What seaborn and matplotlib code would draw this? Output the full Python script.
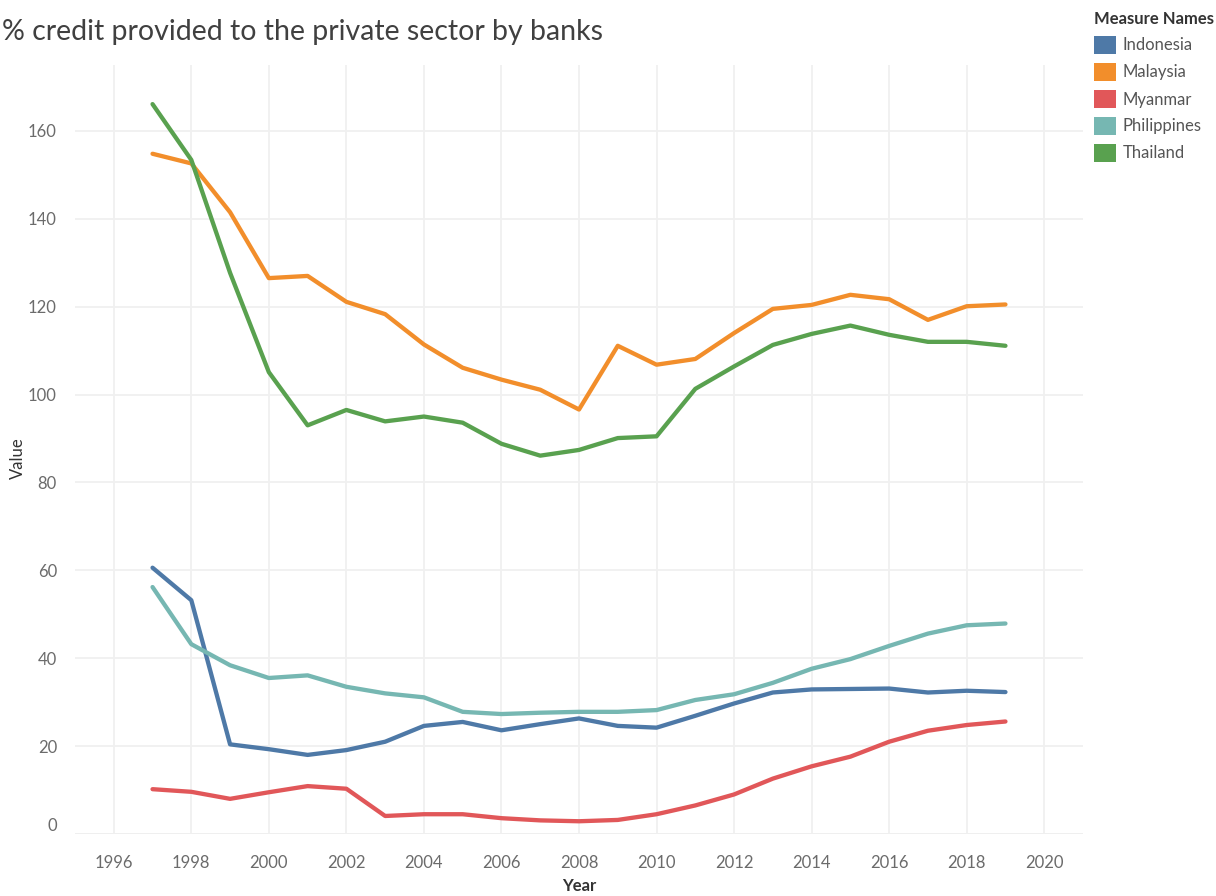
import numpy as np
import pandas as pd
import matplotlib
matplotlib.use("Agg")
import matplotlib.pyplot as plt
from matplotlib.patches import Patch
import seaborn as sns

# Domestic credit to the private sector by banks (% of GDP), 1997-2019
years = list(range(1997, 2020))
indonesia = [60.6, 53.2, 20.4, 19.3, 18.0, 19.1, 21.0, 24.6, 25.5, 23.6, 25.0, 26.3,
             24.6, 24.2, 26.9, 29.7, 32.2, 32.9, 33.0, 33.1, 32.2, 32.6, 32.3]
malaysia = [154.8, 152.6, 141.5, 126.5, 127.0, 121.1, 118.3, 111.4, 106.1, 103.4, 101.1, 96.6,
            111.1, 106.8, 108.1, 114.0, 119.5, 120.4, 122.7, 121.7, 117.0, 120.1, 120.5]
myanmar = [10.2, 9.6, 8.0, 9.5, 10.9, 10.3, 4.1, 4.5, 4.5, 3.6, 3.1, 2.9,
           3.2, 4.5, 6.5, 9.0, 12.6, 15.4, 17.6, 21.0, 23.5, 24.8, 25.6]
philippines = [56.2, 43.2, 38.4, 35.5, 36.1, 33.5, 32.0, 31.1, 27.8, 27.3, 27.6, 27.8,
               27.8, 28.2, 30.5, 31.8, 34.4, 37.6, 39.8, 42.8, 45.6, 47.5, 47.9]
thailand = [166.1, 153.4, 127.7, 105.1, 93.0, 96.5, 93.9, 95.0, 93.6, 88.8, 86.1, 87.4,
            90.1, 90.5, 101.3, 106.4, 111.3, 113.8, 115.7, 113.6, 112.0, 112.0, 111.1]

countries = ["Indonesia", "Malaysia", "Myanmar", "Philippines", "Thailand"]
colors = ["#4e79a7", "#f28e2b", "#e15759", "#76b7b2", "#59a14f"]
x_ticks = list(range(1996, 2021, 2))
y_ticks = list(range(0, 161, 20))

series = dict(zip(countries, [indonesia, malaysia, myanmar, philippines, thailand]))
df = pd.concat(
    [pd.DataFrame({"Year": years, "Value": vals, "Measure Names": name})
     for name, vals in series.items()],
    ignore_index=True,
)

sns.set_theme(style="white")
plt.rcParams["font.family"] = ["Lato", "DejaVu Sans"]

fig = plt.figure(figsize=(12.16, 8.96), dpi=100)
ax_h = (834 - 65) / 896
ax = fig.add_axes([75 / 1216, 1 - 834 / 896, (1083 - 75) / 1216, ax_h])

sns.lineplot(data=df, x="Year", y="Value", hue="Measure Names",
             hue_order=countries, palette=colors, linewidth=3.1,
             legend=False, ax=ax, solid_capstyle="round")

grid_c = "#f0f0f0"
ax.set_xlim(1995, 2021)
ax.set_ylim(0, 175)
ax.set_xticks(x_ticks)
ax.set_yticks(y_ticks)
ax.grid(True, color=grid_c, linewidth=1.3)
ax.set_axisbelow(True)
for s in ax.spines.values():
    s.set_visible(False)
ax.axhline(0, color="#e6e6e6", linewidth=1.3, zorder=0.5)
ax.tick_params(axis="both", which="major", length=7, width=1.3, color=grid_c,
               labelsize=12, labelcolor="#6b6b6b", pad=6)
ax.tick_params(axis="x", pad=8)

# Tableau-style: the zero label sits above the baseline
ylabels = ax.get_yticklabels()
ylabels[0].set_verticalalignment("bottom")

ax.set_xlabel("Year", fontsize=12, fontweight="bold", color="#333333")
ax.set_ylabel("Value", fontsize=12, color="#333333")
ax.xaxis.set_label_coords(0.5, -52 / 769)
ax.xaxis.label.set_verticalalignment("center")
ax.yaxis.set_label_coords(-57 / 1008, (834 - 458) / 769)
ax.yaxis.label.set_verticalalignment("center")

fig.text(2 / 1216, 1 - 32 / 896, "% credit provided to the private sector by banks",
         fontsize=20.5, color="#404040", ha="left", va="center")

handles = [Patch(facecolor=c, edgecolor="none", label=n) for n, c in zip(countries, colors)]
leg = fig.legend(handles=handles, title="Measure Names", loc="upper left",
                 bbox_to_anchor=(1089 / 1216, 1 - 6 / 896), frameon=False,
                 fontsize=12, title_fontsize=12, handlelength=1.3, handleheight=1.3,
                 handletextpad=0.4, labelspacing=0.53, borderaxespad=0, borderpad=0.3)
leg.get_title().set_fontweight("bold")
leg.get_title().set_color("#333333")
leg._legend_box.align = "left"
for t in leg.get_texts():
    t.set_color("#555555")

fig.savefig("out.png", dpi=100)
